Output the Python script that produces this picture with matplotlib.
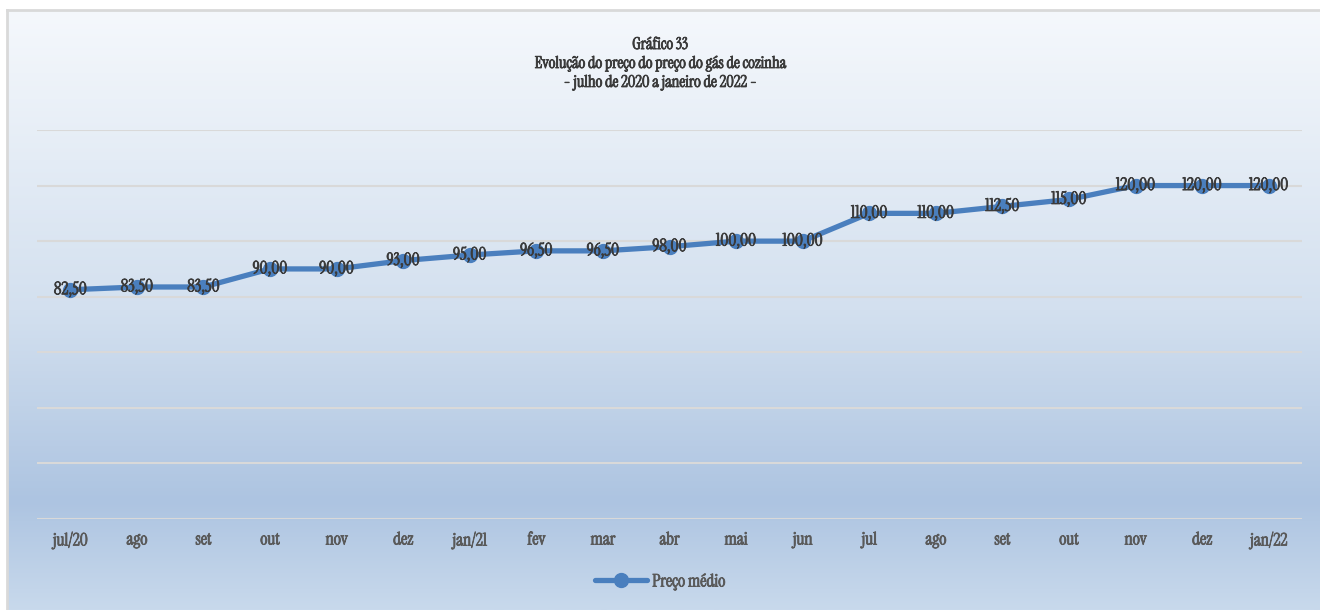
import numpy as np
import matplotlib.pyplot as plt
import matplotlib.patheffects as pe
from matplotlib.colors import LinearSegmentedColormap

# Data
meses = ["jul/20", "ago", "set", "out", "nov", "dez", "jan/21", "fev", "mar", "abr",
         "mai", "jun", "jul", "ago", "set", "out", "nov", "dez", "jan/22"]
preco_medio = [82.5, 83.5, 83.5, 90.0, 90.0, 93.0, 95.0, 96.5, 96.5, 98.0,
               100.0, 100.0, 110.0, 110.0, 112.5, 115.0, 120.0, 120.0, 120.0]

titulo = "Gráfico 33\nEvolução do preço do preço do gás de cozinha\n- julho de 2020 a janeiro de 2022 -"

# condensed serif look, falls back to other fonts if missing
plt.rcParams["font.family"] = ["Instrument Serif", "Oranienbaum", "Archivo Narrow",
                               "DejaVu Sans"]


# thin stroke in the text colour to make the serif a bit heavier
def heavy(color):
    return [pe.withStroke(linewidth=0.6, foreground=color)]


fig = plt.figure(figsize=(13.2, 6.1), dpi=100)

# gradient background with light gray frame
bg = fig.add_axes([7 / 1320, 0, 1 - 7 / 1320, 600 / 610])
cmap = LinearSegmentedColormap.from_list(
    "fundo", [(0, "#f5f8fc"), (0.5, "#d3e0ef"), (0.82, "#adc4e1"), (1, "#c8d9ec")])
grad = np.linspace(0, 1, 256).reshape(-1, 1)
bg.imshow(grad, aspect="auto", cmap=cmap, extent=[0, 1, 0, 1], origin="upper")
bg.set_xlim(0, 1)
bg.set_ylim(0, 1)
bg.set_xticks([])
bg.set_yticks([])
for s in ["right", "bottom"]:
    bg.spines[s].set_visible(False)
for s in ["left", "top"]:
    bg.spines[s].set_color("#d9d9d9")
    bg.spines[s].set_linewidth(2)
bg.set_zorder(0)

ax = fig.add_axes([37 / 1320, 1 - 519 / 610, (1302 - 37) / 1320, (519 - 130) / 610])
ax.set_facecolor("none")
ax.set_zorder(1)

x = np.arange(len(meses))
ax.plot(x, preco_medio, color="#4a7fbe", linewidth=3.8, marker="o", markersize=10,
        label="Preço médio", solid_capstyle="round")

for xi, v in zip(x, preco_medio):
    ax.text(xi, v, f"{v:.2f}".replace(".", ","), ha="center", va="center",
            fontsize=12.5, color="#3a3a3a", path_effects=heavy("#3a3a3a"))

ax.set_xlim(-0.5, len(meses) - 0.5)
ax.set_ylim(0, 140)
ax.set_yticks(np.arange(0, 141, 20))
ax.yaxis.grid(True, color="#d9d9d9", linewidth=1.5)
ax.set_yticklabels([])
ax.tick_params(axis="y", length=0)
ax.set_xticks(x)
ax.set_xticklabels(meses, fontsize=12.5, color="#595959")
for lbl in ax.get_xticklabels():
    lbl.set_path_effects(heavy("#595959"))
ax.tick_params(axis="x", length=0, pad=9)
for s in ax.spines.values():
    s.set_visible(False)
ax.set_axisbelow(True)

fig.text(0.5, 1 - 64 / 610, titulo, ha="center", va="center", fontsize=11.8,
         color="#3a3a3a", linespacing=1.45, path_effects=heavy("#3a3a3a"))

leg = fig.legend(loc="center", bbox_to_anchor=(0.5, 1 - 582 / 610), frameon=False,
                 prop={"size": 12.5}, labelcolor="#595959",
                 handlelength=3, handletextpad=0.3)
for t in leg.get_texts():
    t.set_path_effects(heavy("#595959"))

fig.savefig("out.png", dpi=100)
